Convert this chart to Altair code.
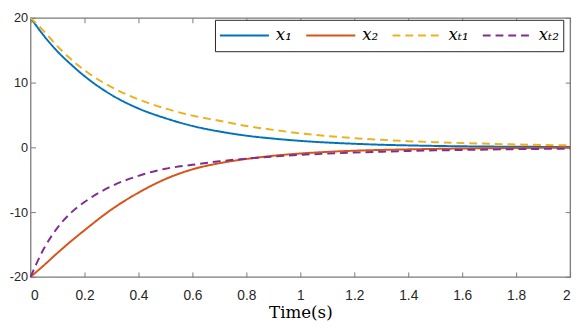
import altair as alt
import pandas as pd

# ---- data ----
time_s = [0, 0.05, 0.1, 0.15, 0.2, 0.3, 0.4, 0.5, 0.6, 0.7, 0.8, 0.9, 1.0,
          1.1, 1.2, 1.3, 1.4, 1.5, 1.6, 1.7, 1.8, 1.9, 2.0]
x1 = [20, 17.2, 14.8, 12.8, 11.0, 8.1, 6.0, 4.5, 3.3, 2.45, 1.8, 1.35, 1.0,
      0.74, 0.55, 0.4, 0.3, 0.22, 0.16, 0.12, 0.09, 0.07, 0.05]
x2 = [-20, -18.2, -16.3, -14.5, -12.8, -9.6, -7.0, -4.9, -3.4, -2.45, -1.8, -1.3, -0.95,
      -0.7, -0.52, -0.4, -0.31, -0.24, -0.18, -0.14, -0.11, -0.08, -0.06]
xT1 = [20, 17.9, 15.6, 13.6, 11.9, 9.3, 7.4, 6.0, 4.9, 4.1, 3.3, 2.7, 2.15,
       1.75, 1.42, 1.17, 0.95, 0.8, 0.66, 0.55, 0.45, 0.37, 0.3]
xT2 = [-20, -15.6, -12.4, -10.1, -8.45, -6.0, -4.4, -3.3, -2.7, -2.15, -1.75, -1.43, -1.16,
       -0.97, -0.81, -0.68, -0.56, -0.47, -0.4, -0.34, -0.28, -0.24, -0.2]

series_names = ["x₁", "x₂", "xₜ₁", "xₜ₂"]
series_colors = ["#0072BD", "#D95319", "#EDB120", "#7E2F8E"]
series_dashes = [[1, 0], [1, 0], [8, 5], [8, 5]]

x_ticks = [0, 0.2, 0.4, 0.6, 0.8, 1, 1.2, 1.4, 1.6, 1.8, 2]
y_ticks = [-20, -10, 0, 10, 20]

rows = []
for name, vals in zip(series_names, [x1, x2, xT1, xT2]):
    for t, v in zip(time_s, vals):
        rows.append({"t": t, "v": v, "s": name})
df = pd.DataFrame(rows)

AX = "#7a7a7a"
LBL = "#262626"

x_scale = alt.Scale(domain=[0, 2], nice=False, zero=False)
y_scale = alt.Scale(domain=[-20, 20], nice=False, zero=False)

legend = alt.Legend(
    title=None, orient="none", legendX=188, legendY=2,
    direction="horizontal", columns=4, symbolType="stroke", symbolSize=2500,
    symbolStrokeWidth=2, clipHeight=24, labelFont="DejaVu Serif",
    labelFontStyle="italic", labelFontSize=17, labelColor="black",
    labelOffset=6, columnPadding=13,
    strokeColor="#262626", fillColor="white", padding=4, cornerRadius=0,
)

lines = alt.Chart(df).mark_line(strokeWidth=2, interpolate="monotone").encode(
    x=alt.X("t:Q", scale=x_scale, axis=alt.Axis(
        orient="bottom", values=x_ticks, labelExpr="toString(datum.value)",
        title="Time(s)", grid=False, domain=False, tickSize=5, offset=-5,
        tickColor=AX, labelPadding=12, labelColor=LBL, labelFont="Liberation Sans",
        labelFontSize=14, titleFont="DejaVu Serif", titleFontSize=17,
        titleFontWeight="normal", titleColor="black", titlePadding=2)),
    y=alt.Y("v:Q", scale=y_scale, axis=alt.Axis(
        orient="left", values=y_ticks, labelExpr="toString(datum.value)",
        title=None, grid=False, domain=False, tickSize=5, offset=-5,
        tickColor=AX, labelPadding=3, labelColor=LBL, labelFont="Liberation Sans",
        labelFontSize=13)),
    color=alt.Color("s:N", scale=alt.Scale(domain=series_names, range=series_colors),
                    legend=legend),
    strokeDash=alt.StrokeDash("s:N", scale=alt.Scale(domain=series_names, range=series_dashes),
                              legend=legend),
)

frame_ticks = alt.Chart(df).mark_line(opacity=0).encode(
    x=alt.X("t:Q", scale=x_scale, axis=alt.Axis(
        orient="top", values=x_ticks, labels=False, title=None, grid=False,
        domain=False, tickSize=5, offset=-5, tickColor=AX)),
    y=alt.Y("v:Q", scale=y_scale, axis=alt.Axis(
        orient="right", values=y_ticks, labels=False, title=None, grid=False,
        domain=False, tickSize=5, offset=-5, tickColor=AX)),
    detail="s:N",
)

chart = alt.layer(lines, frame_ticks).resolve_axis(
    x="independent", y="independent"
).properties(
    width=550, height=264,
    padding={"left": 23, "top": 7, "right": 6, "bottom": 43},
    autosize=alt.AutoSizeParams(type="none"),
    background="white",
).configure_view(stroke=AX, strokeWidth=1.3)

chart.save("out.html", embed_options={"renderer": "svg", "actions": False})
